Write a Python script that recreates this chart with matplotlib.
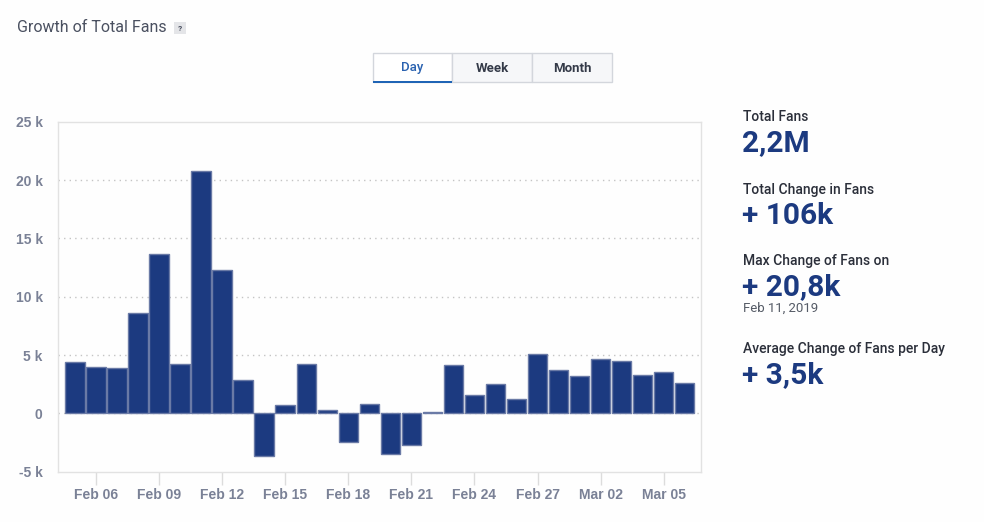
import matplotlib.pyplot as plt
from matplotlib.patches import Rectangle

# daily change in fans, Feb 05 .. Mar 06 2019
days = ['Feb 05', 'Feb 06', 'Feb 07', 'Feb 08', 'Feb 09', 'Feb 10', 'Feb 11', 'Feb 12',
        'Feb 13', 'Feb 14', 'Feb 15', 'Feb 16', 'Feb 17', 'Feb 18', 'Feb 19', 'Feb 20',
        'Feb 21', 'Feb 22', 'Feb 23', 'Feb 24', 'Feb 25', 'Feb 26', 'Feb 27', 'Feb 28',
        'Mar 01', 'Mar 02', 'Mar 03', 'Mar 04', 'Mar 05', 'Mar 06']
change = [4.37, 3.94, 3.86, 8.57, 13.7, 4.2, 20.8, 12.26, 2.83, -3.69,
          0.71, 4.2, 0.26, -2.49, 0.77, -3.46, -2.69, 0.11, 4.11, 1.57,
          2.49, 1.23, 5.06, 3.69, 3.2, 4.66, 4.49, 3.26, 3.54, 2.6]
tick_days = ['Feb 06', 'Feb 09', 'Feb 12', 'Feb 15', 'Feb 18', 'Feb 21',
             'Feb 24', 'Feb 27', 'Mar 02', 'Mar 05']
y_ticks = [-5, 0, 5, 10, 15, 20, 25]
y_labels = ['-5 k', '0', '5 k', '10 k', '15 k', '20 k', '25 k']

stats = [('Total Fans', '2,2M', None),
         ('Total Change in Fans', '+ 106k', None),
         ('Max Change of Fans on', '+ 20,8k', 'Feb 11, 2019'),
         ('Average Change of Fans per Day', '+ 3,5k', None)]
stat_y = [117, 190, 261, 349]

W, H = 984, 522
BLUE = '#1c3a80'
GRAY = '#7a8196'

def fx(x):
    return x / W

def fy(y):
    return 1 - y / H

fig = plt.figure(figsize=(9.84, 5.22), dpi=100)
fig.patch.set_facecolor('#fefefe')

ax = fig.add_axes([fx(58), fy(471.7), fx(701) - fx(58), fy(121.7) - fy(471.7)])
ax.set_facecolor('#fefefe')
x = list(range(len(days)))
ax.bar(x, change, width=0.92, color=BLUE, edgecolor='#6a7aa6', linewidth=1, zorder=3)
ax.set_xlim(-0.8, len(days) - 0.23)
ax.set_ylim(-5, 25)

for v in [0, 5, 10, 15, 20]:
    ax.axhline(v, color='#c4c4c4', linewidth=1, linestyle=(0, (1, 3)), zorder=1)

for s in ax.spines.values():
    s.set_color('#e2e2e2')
    s.set_linewidth(1)

ax.set_yticks(y_ticks)
ax.set_yticklabels(y_labels)
ax.set_xticks([days.index(d) for d in tick_days])
ax.set_xticklabels(tick_days)
ax.tick_params(axis='y', length=0, pad=11, labelcolor=GRAY)
ax.tick_params(axis='x', length=9, color='#dcdcdc', width=1, pad=3, labelcolor=GRAY)
for lab in ax.get_xticklabels() + ax.get_yticklabels():
    lab.set_fontfamily('Liberation Sans')
    lab.set_fontweight('bold')
    lab.set_fontsize(10)

# title and help badge
fig.text(fx(17), fy(28), 'Growth of Total Fans', family='Roboto', fontsize=11.5,
         color='#4a5060', va='center')
fig.patches.append(Rectangle((fx(174), fy(34)), fx(12), fy(22) - fy(34),
                             transform=fig.transFigure, facecolor='#e4e5e8', edgecolor='none'))
fig.text(fx(180), fy(28.5), '?', family='Roboto', fontsize=6, fontweight='bold',
         color='#4a5060', ha='center', va='center')

# period buttons
buttons = [('Day', 373, 452), ('Week', 452, 532), ('Month', 532, 612)]
for i, (name, x0, x1) in enumerate(buttons):
    active = i == 0
    fig.patches.append(Rectangle((fx(x0), fy(82)), fx(x1 - x0), fy(53) - fy(82),
                                 transform=fig.transFigure,
                                 facecolor='#ffffff' if active else '#f6f7f9',
                                 edgecolor='#d3d6dc', linewidth=1))
    fig.text(fx((x0 + x1) / 2), fy(68), name, family='Roboto', fontsize=9.5,
             fontweight='medium' if active else 'bold',
             color='#2a62b0' if active else '#343a48', ha='center', va='center')
fig.patches.append(Rectangle((fx(373), fy(83)), fx(79), fy(81) - fy(83),
                             transform=fig.transFigure, facecolor='#1f64b5', edgecolor='none'))

# side statistics
for (label, value, note), y in zip(stats, stat_y):
    fig.text(fx(743), fy(y), label, family='Roboto', fontsize=10, fontweight='medium',
             color='#2b2f3a', va='center')
    fig.text(fx(742), fy(y + 26), value, family='Roboto', fontsize=21.5, fontweight='bold',
             color=BLUE, va='center')
    if note:
        fig.text(fx(743), fy(y + 47), note, family='Roboto', fontsize=9.5,
                 color='#555b66', va='center')

fig.savefig('out.png', dpi=100, facecolor=fig.get_facecolor())
